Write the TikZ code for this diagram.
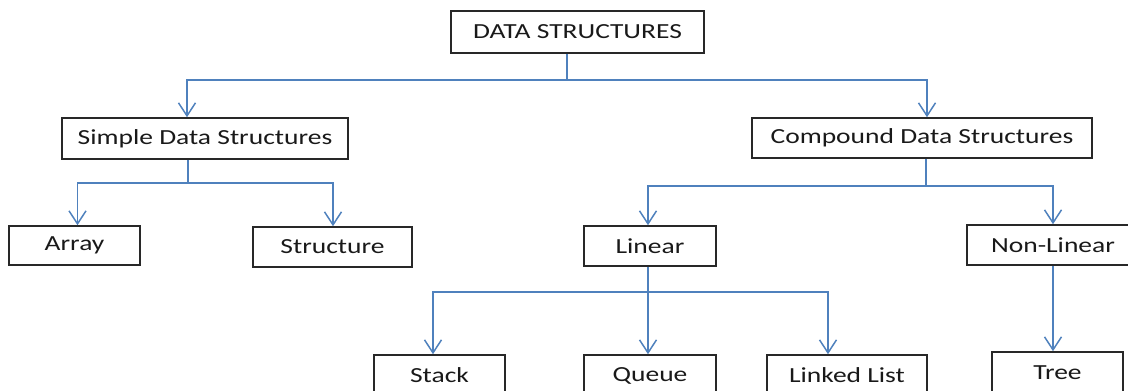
\documentclass[tikz,border=0pt]{standalone}
\usepackage{fontspec}
\setmainfont{Carlito}[FakeStretch=1.28]
\usetikzlibrary{arrows.meta}
\definecolor{conn}{RGB}{79,129,189}
\definecolor{boxline}{RGB}{40,40,40}
\tikzset{
  dsbox/.style={draw=boxline, line width=1.6pt, rectangle, inner sep=0pt, font=\fontsize{21.5}{24}\selectfont, text=black!90},
  link/.style={draw=conn, line width=1.5pt},
  arr/.style={link, -{Straight Barb[length=13pt,width=17pt,line width=1.5pt]}}
}
\newcommand{\dsnode}[6]{% name, x1, x2, y1, y2, text
  \node[dsbox, minimum width={(#3-#2)*1pt}, minimum height={(#5-#4)*1pt}] (#1) at ({(#2+#3)/2},{(#4+#5)/2}) {#6};}
\begin{document}
\begin{tikzpicture}[x=1pt,y=-1pt]
\useasboundingbox (0,0) rectangle (1128,391);
\dsnode{ds}{451}{704}{11}{53}{DATA STRUCTURES}
\dsnode{simple}{62}{348}{118}{159}{Simple Data Structures}
\dsnode{compound}{752}{1092}{118}{158}{Compound Data Structures}
\dsnode{array}{9}{140}{226}{265}{Array}
\dsnode{structure}{253}{412}{227}{267}{Structure}
\dsnode{linear}{584}{716}{226}{266}{Linear}
\dsnode{nonlinear}{967}{1139}{225}{265}{Non-Linear}
\dsnode{stack}{374}{505}{355}{396}{Stack}
\dsnode{queue}{584}{716}{355}{396}{Queue}
\dsnode{linked}{767}{927}{355}{396}{Linked List}
\dsnode{tree}{992}{1123}{352}{393}{Tree}
% junctions
\coordinate (j1) at (567,80);
\coordinate (j2) at (188,183);
\coordinate (j3) at (926,186);
\coordinate (j4) at (648,292);
% top level
\draw[link] (ds.south -| j1) -- (j1);
\draw[arr] (j1) -| ([xshift=-18pt]simple.north);
\draw[arr] (j1) -| ([xshift=5pt]compound.north);
% simple
\draw[link] (simple.south -| j2) -- (j2);
\draw[arr] (j2) -| ([xshift=3pt]array.north);
\draw[arr] (j2) -| ([xshift=0.5pt]structure.north);
% compound
\draw[link] (compound.south -| j3) -- (j3);
\draw[arr] (j3) -| ([xshift=-2pt]linear.north);
\draw[arr] (j3) -| (nonlinear.north);
% linear
\draw[link] (linear.south -| j4) -- (j4);
\draw[arr] (j4) -| ([xshift=-6.5pt]stack.north);
\draw[arr] (j4) -- (queue.north -| j4);
\draw[arr] (j4) -| ([xshift=-19pt]linked.north);
% nonlinear
\draw[arr] (nonlinear.south) -- (tree.north -| nonlinear.south);
\end{tikzpicture}
\end{document}
